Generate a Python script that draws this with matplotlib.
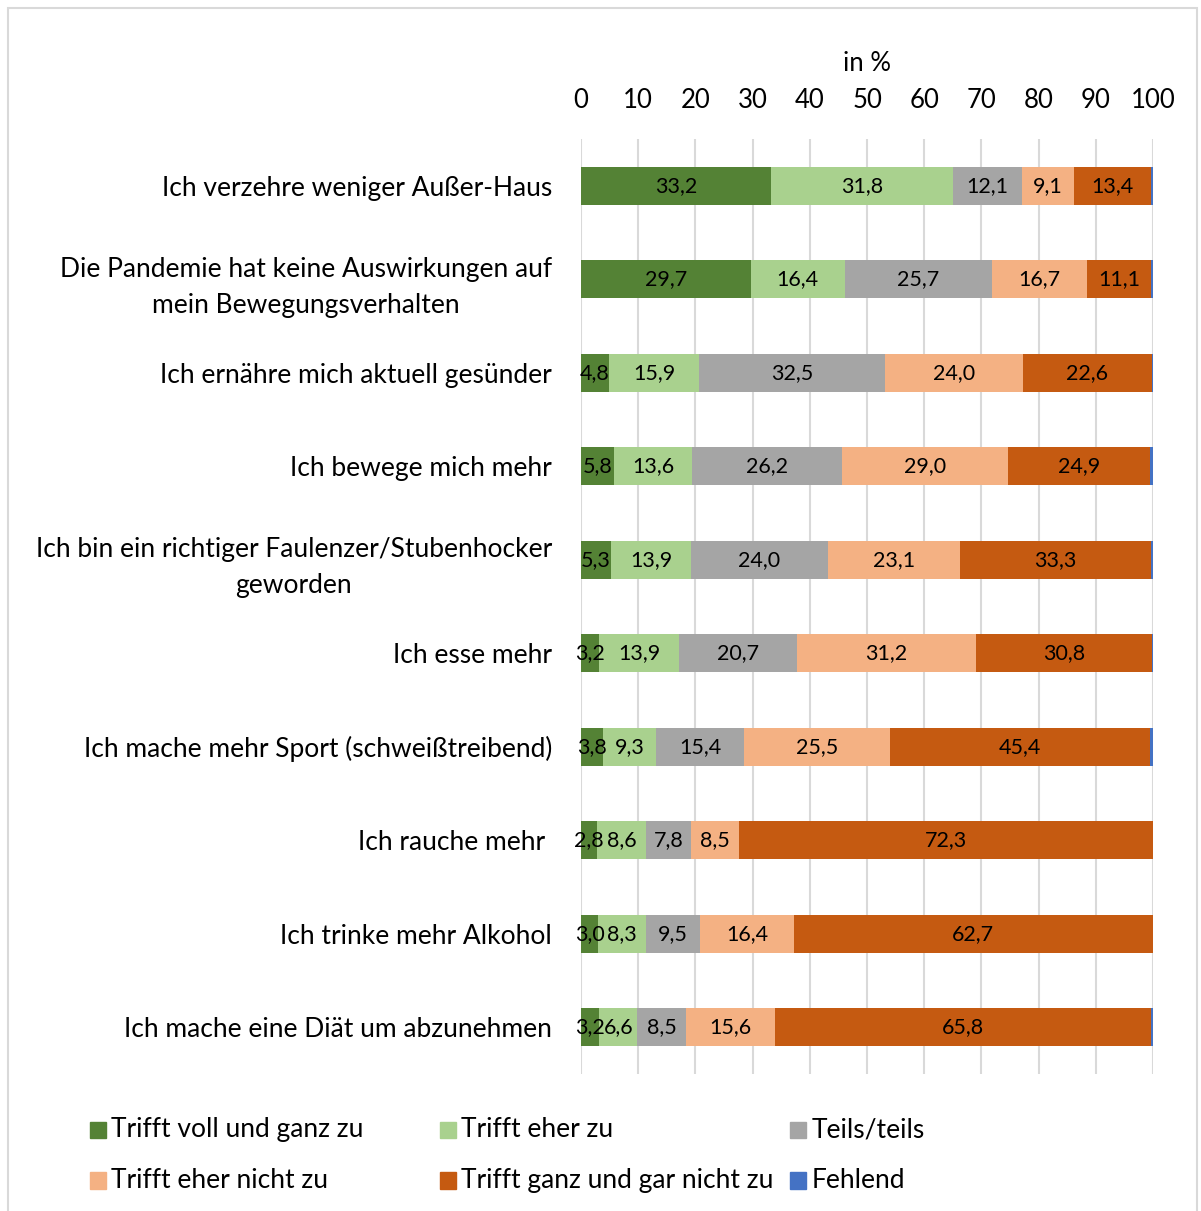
import matplotlib.pyplot as plt
from matplotlib.patches import Rectangle

plt.rcParams['font.family'] = ['Lato', 'DejaVu Sans']

# data (top row first)
categories = [
    'Ich verzehre weniger Außer-Haus',
    'Die Pandemie hat keine Auswirkungen auf\nmein Bewegungsverhalten',
    'Ich ernähre mich aktuell gesünder',
    'Ich bewege mich mehr',
    'Ich bin ein richtiger Faulenzer/Stubenhocker\ngeworden',
    'Ich esse mehr',
    'Ich mache mehr Sport (schweißtreibend)',
    'Ich rauche mehr ',
    'Ich trinke mehr Alkohol',
    'Ich mache eine Diät um abzunehmen',
]
series_names = ['Trifft voll und ganz zu', 'Trifft eher zu', 'Teils/teils',
                'Trifft eher nicht zu', 'Trifft ganz und gar nicht zu', 'Fehlend']
voll = [33.2, 29.7, 4.8, 5.8, 5.3, 3.2, 3.8, 2.8, 3.0, 3.2]
eher = [31.8, 16.4, 15.9, 13.6, 13.9, 13.9, 9.3, 8.6, 8.3, 6.6]
teils = [12.1, 25.7, 32.5, 26.2, 24.0, 20.7, 15.4, 7.8, 9.5, 8.5]
eher_nicht = [9.1, 16.7, 24.0, 29.0, 23.1, 31.2, 25.5, 8.5, 16.4, 15.6]
gar_nicht = [13.4, 11.1, 22.6, 24.9, 33.3, 30.8, 45.4, 72.3, 62.7, 65.8]
fehlend = [0.4, 0.4, 0.2, 0.5, 0.4, 0.2, 0.6, 0.0, 0.1, 0.3]
colors = ['#548235', '#A9D18E', '#A5A5A5', '#F4B183', '#C55A11', '#4472C4']

fig = plt.figure(figsize=(12.01, 12.11), dpi=100)
ax = fig.add_axes([0.4838, 0.1131, 0.4763, 0.7721])

series = [voll, eher, teils, eher_nicht, gar_nicht, fehlend]
y = list(range(len(categories)))
left = [0.0] * len(categories)
for i, (vals, col) in enumerate(zip(series, colors)):
    bars = ax.barh(y, vals, left=left, height=0.41, color=col, zorder=3)
    if i < 5:
        labels = [f'{v:.1f}'.replace('.', ',') for v in vals]
        ax.bar_label(bars, labels=labels, label_type='center', fontsize=15.5,
                     color='black', zorder=4)
    left = [l + v for l, v in zip(left, vals)]

ax.set_xlim(0, 100)
ax.set_ylim(len(categories) - 0.5, -0.5)
ax.set_xticks(range(0, 101, 10))
ax.xaxis.tick_top()
ax.xaxis.set_label_position('top')
ax.set_xlabel('in %', fontsize=18.5, labelpad=12)
ax.tick_params(axis='x', length=0, labelsize=18.5, pad=19)
ax.set_yticks(y)
ax.set_yticklabels(categories, fontsize=19)
for lab in ax.get_yticklabels():
    lab.set_multialignment('center')
    lab.set_linespacing(1.55)
ax.tick_params(axis='y', length=0, pad=21)
ax.grid(axis='x', color='#D9D9D9', linewidth=1.5, zorder=0)
for s in ax.spines.values():
    s.set_visible(False)

# legend
leg_x = [0.075, 0.366, 0.658]
leg_y = [0.067, 0.025]
for k, (name, col) in enumerate(zip(series_names, colors)):
    lx = leg_x[k % 3]
    ly = leg_y[k // 3]
    fig.patches.append(Rectangle((lx, ly - 0.0065), 0.0133, 0.0133, color=col,
                                 transform=fig.transFigure, figure=fig))
    fig.text(lx + 0.0175, ly, name, fontsize=19, va='center', ha='left')

# outer frame
fig.patches.append(Rectangle((0.007, -0.01), 0.99, 1.003, fill=False,
                             edgecolor='#D9D9D9', linewidth=1.5,
                             transform=fig.transFigure, figure=fig))

fig.savefig('out.png', dpi=100)
